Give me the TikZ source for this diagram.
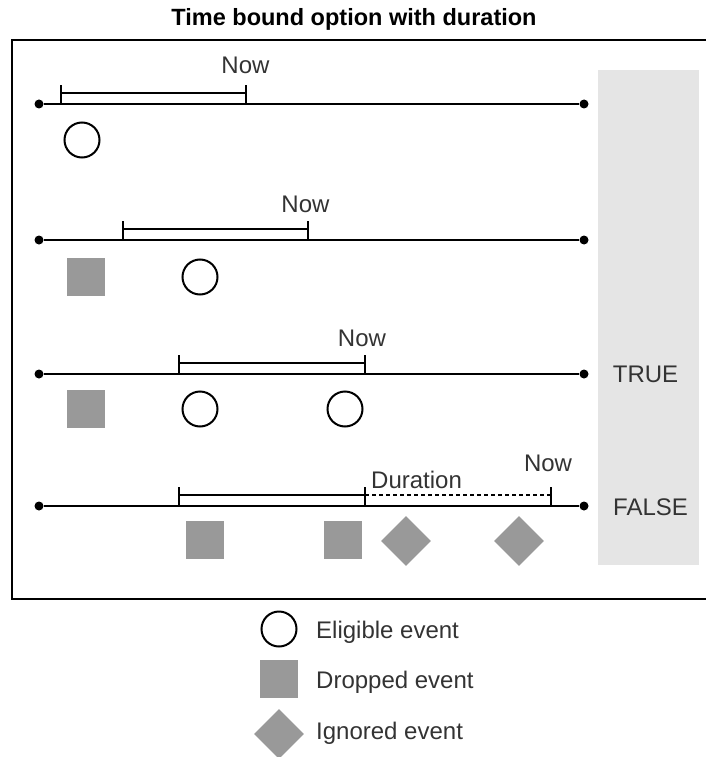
\documentclass[tikz,border=0pt]{standalone}
\usepackage{fontspec}
\setmainfont{Liberation Sans}
\usetikzlibrary{shapes.geometric}
\definecolor{evgray}{HTML}{999999}
\definecolor{panelgray}{HTML}{E5E5E5}
\definecolor{txtgray}{HTML}{333333}
\tikzset{
  dotend/.style={circle,fill=black,inner sep=0,minimum size=9},
  eligible/.style={circle,draw=black,line width=2,minimum size=35,inner sep=0},
  dropped/.style={rectangle,fill=evgray,minimum size=38,inner sep=0},
  ignored/.style={diamond,fill=evgray,minimum size=50,inner sep=0},
  lbl/.style={font=\fontsize{24}{28}\selectfont,text=txtgray,inner sep=0},
  tline/.style={line width=2.2},
  barline/.style={line width=2.2},
  durline/.style={line width=1.6,dash pattern=on 4pt off 3pt},
}
\begin{document}
\begin{tikzpicture}[x=1pt,y=-1pt]
\useasboundingbox (0,0) rectangle (706,757);
% title
\node[font=\fontsize{23.5}{28}\selectfont\bfseries,inner sep=0,anchor=base] (title) at (354,26) {Time bound option with duration};
% frame
\draw[line width=2] (706,40) -- (12,40) -- (12,599) -- (706,599);
% result panel
\fill[panelgray] (598,70) rectangle (699,565);
\node[lbl,anchor=base] (true) at (645.5,382) {TRUE};
\node[lbl,anchor=base] (false) at (650.5,515) {FALSE};
% timeline 1
\node[dotend] (s1) at (39,104) {};
\node[dotend] (e1) at (584,104) {};
\draw[tline] (s1) -- (e1);
\coordinate (b1s) at (61,104);
\coordinate (b1e) at (246,104);
\draw[barline] (b1s) -- ([yshift=19pt]b1s) (b1e) -- ([yshift=19pt]b1e)
  ([yshift=11pt]b1s) -- ([yshift=11pt]b1e);
\node[lbl,anchor=base] (now1) at (245.5,74) {Now};
\node[eligible] (c11) at (82,140) {};
% timeline 2
\node[dotend] (s2) at (39,240) {};
\node[dotend] (e2) at (584,240) {};
\draw[tline] (s2) -- (e2);
\coordinate (b2s) at (123,240);
\coordinate (b2e) at (308,240);
\draw[barline] (b2s) -- ([yshift=19pt]b2s) (b2e) -- ([yshift=19pt]b2e)
  ([yshift=11pt]b2s) -- ([yshift=11pt]b2e);
\node[lbl,anchor=base] (now2) at (305.5,212) {Now};
\node[dropped] (d21) at (86,277) {};
\node[eligible] (c21) at (200,277) {};
% timeline 3
\node[dotend] (s3) at (39,374) {};
\node[dotend] (e3) at (584,374) {};
\draw[tline] (s3) -- (e3);
\coordinate (b3s) at (179,374);
\coordinate (b3e) at (365,374);
\draw[barline] (b3s) -- ([yshift=19pt]b3s) (b3e) -- ([yshift=19pt]b3e)
  ([yshift=11pt]b3s) -- ([yshift=11pt]b3e);
\node[lbl,anchor=base] (now3) at (362,346) {Now};
\node[dropped] (d31) at (86,409) {};
\node[eligible] (c31) at (200,409) {};
\node[eligible] (c32) at (345,409) {};
% timeline 4
\node[dotend] (s4) at (39,506) {};
\node[dotend] (e4) at (584,506) {};
\draw[tline] (s4) -- (e4);
\coordinate (b4s) at (179,506);
\coordinate (b4e) at (365,506);
\coordinate (b4n) at (551,506);
\draw[barline] (b4s) -- ([yshift=19pt]b4s) (b4e) -- ([yshift=19pt]b4e)
  ([yshift=11pt]b4s) -- ([yshift=11pt]b4e);
\draw[barline] (b4n) -- ([yshift=19pt]b4n);
\draw[durline] ([yshift=11pt]b4e) -- ([yshift=11pt]b4n);
\node[lbl,anchor=base west] (dur) at (371,488) {Duration};
\node[lbl,anchor=base] (now4) at (548,471) {Now};
\node[dropped] (d41) at (205,540) {};
\node[dropped] (d42) at (343,540) {};
\node[ignored] (i41) at (406,541) {};
\node[ignored] (i42) at (519,541) {};
% legend
\node[eligible] (legc) at (279,629) {};
\node[lbl,anchor=base west] (legct) at (316,638) {Eligible event};
\node[dropped] (legd) at (279,679) {};
\node[lbl,anchor=base west] (legdt) at (316,688) {Dropped event};
\node[ignored] (legi) at (279,734) {};
\node[lbl,anchor=base west] (legit) at (316,739) {Ignored event};
\end{tikzpicture}
\end{document}
